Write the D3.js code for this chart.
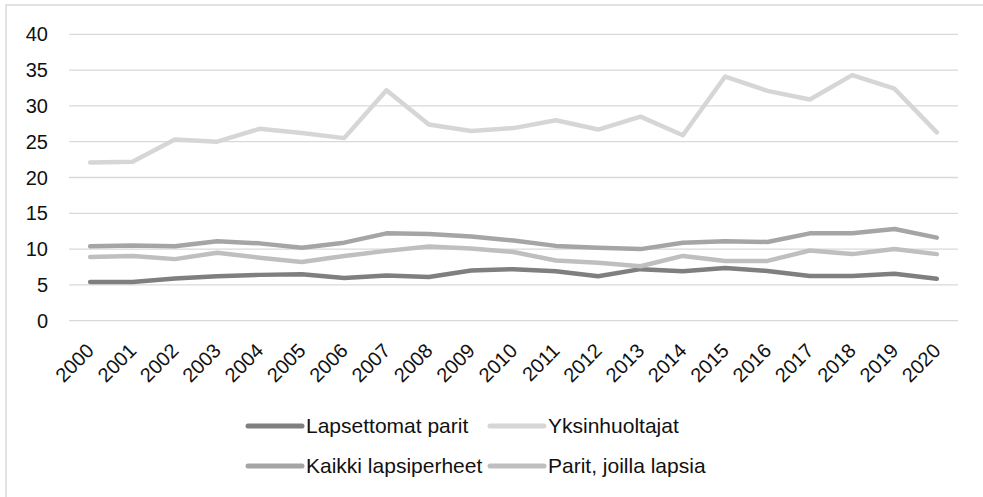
<!DOCTYPE html>
<html>
<head>
<meta charset="utf-8">
<script src="https://cdn.jsdelivr.net/npm/d3@7"></script>
<style>
  body { margin: 0; background: #fff; }
  text { font-family: "Liberation Sans", Arial, sans-serif; fill: #111; }
</style>
</head>
<body>
<div id="chart"></div>
<script>
var years = ["2000","2001","2002","2003","2004","2005","2006","2007","2008","2009","2010",
             "2011","2012","2013","2014","2015","2016","2017","2018","2019","2020"];

var lapsettomat = [5.4, 5.4, 5.9, 6.2, 6.4, 6.5, 5.95, 6.3, 6.1, 7.0, 7.2, 6.9, 6.2, 7.2, 6.9, 7.35, 6.95, 6.25, 6.25, 6.55, 5.85];
var yksinhuoltajat = [22.1, 22.2, 25.3, 25.0, 26.8, 26.2, 25.5, 32.2, 27.4, 26.5, 26.9, 28.0, 26.7, 28.5, 25.9, 34.1, 32.1, 30.9, 34.3, 32.4, 26.3];
var kaikki = [10.4, 10.5, 10.4, 11.1, 10.8, 10.2, 10.9, 12.2, 12.1, 11.75, 11.2, 10.45, 10.2, 10.0, 10.9, 11.1, 11.0, 12.2, 12.2, 12.8, 11.6];
var parit = [8.9, 9.05, 8.6, 9.5, 8.8, 8.2, 9.05, 9.75, 10.35, 10.1, 9.6, 8.4, 8.1, 7.6, 9.05, 8.35, 8.35, 9.8, 9.3, 10.0, 9.3];

var yTicks = [0, 5, 10, 15, 20, 25, 30, 35, 40];

var series = [
  {name: "Lapsettomat parit", values: lapsettomat, color: "#7f7f7f"},
  {name: "Yksinhuoltajat", values: yksinhuoltajat, color: "#d6d6d6"},
  {name: "Kaikki lapsiperheet", values: kaikki, color: "#a5a5a5"},
  {name: "Parit, joilla lapsia", values: parit, color: "#bfbfbf"}
];

var width = 983, height = 497;

var svg = d3.select("#chart")
    .append("svg")
    .attr("width", width)
    .attr("height", height);

// chart border
svg.append("rect")
    .attr("x", 6).attr("y", 5)
    .attr("width", width + 10).attr("height", height + 10)
    .attr("fill", "none")
    .attr("stroke", "#d9d9d9")
    .attr("stroke-width", 1.5);

var x = d3.scaleBand().domain(years).range([69, 958]);
var y = d3.scaleLinear().domain([0, 40]).range([320.7, 34.3]);

// gridlines
svg.append("g")
    .selectAll("line")
    .data(yTicks).enter()
    .append("line")
    .attr("x1", 69).attr("x2", 958)
    .attr("y1", function(d) { return y(d); })
    .attr("y2", function(d) { return y(d); })
    .attr("stroke", "#d9d9d9")
    .attr("stroke-width", 1.3);

// y labels
svg.append("g")
    .selectAll("text")
    .data(yTicks).enter()
    .append("text")
    .attr("x", 48)
    .attr("y", function(d) { return y(d); })
    .attr("dy", "0.35em")
    .attr("text-anchor", "end")
    .style("font-size", "20px")
    .text(function(d) { return d; });

// x labels
svg.append("g")
    .selectAll("text")
    .data(years).enter()
    .append("text")
    .attr("transform", function(d) {
        return "translate(" + (x(d) + x.bandwidth() / 2 + 5) + ",352) rotate(-45)";
    })
    .attr("text-anchor", "end")
    .style("font-size", "20px")
    .text(function(d) { return d; });

var line = d3.line()
    .x(function(d, i) { return x(years[i]) + x.bandwidth() / 2; })
    .y(function(d) { return y(d); });

svg.append("g")
    .selectAll("path")
    .data(series).enter()
    .append("path")
    .attr("d", function(d) { return line(d.values); })
    .attr("fill", "none")
    .attr("stroke", function(d) { return d.color; })
    .attr("stroke-width", 4.5)
    .attr("stroke-linecap", "round")
    .attr("stroke-linejoin", "round");

// legend
var legend = svg.append("g")
    .selectAll("g")
    .data(series).enter()
    .append("g")
    .attr("transform", function(d, i) {
        return "translate(" + (248 + (i % 2) * 242) + "," + (426 + Math.floor(i / 2) * 40) + ")";
    });

legend.append("line")
    .attr("x1", 0).attr("x2", 54)
    .attr("stroke", function(d) { return d.color; })
    .attr("stroke-width", 5)
    .attr("stroke-linecap", "round");

legend.append("text")
    .attr("x", 58)
    .attr("dy", "0.35em")
    .style("font-size", "21px")
    .text(function(d) { return d.name; });
</script>
</body>
</html>
